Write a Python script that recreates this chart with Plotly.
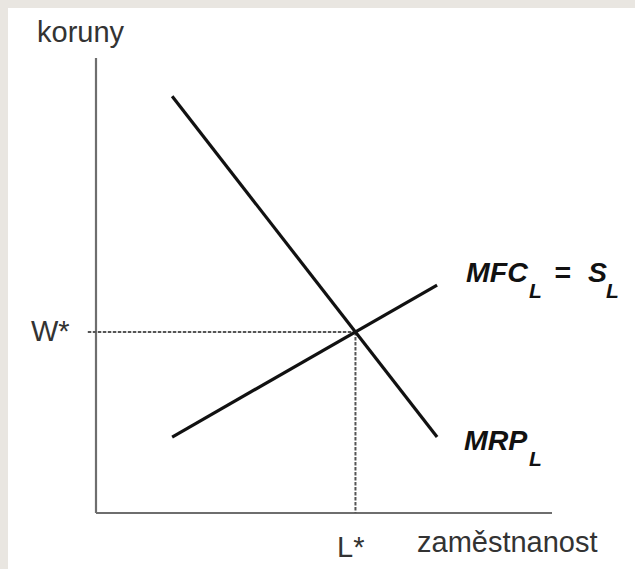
import plotly.graph_objects as go

# ---- data (economic units: axes run 0..10) ----
mrp_x = [1.67, 7.48]
mrp_y = [9.16, 1.67]
mfc_x = [1.67, 7.48]
mfc_y = [1.67, 5.01]
eq_L = [5.69]
eq_W = [3.98]
axis_max_x = [10.0]
axis_max_y = [10.0]
wage_guide_start = [-0.18]

y_axis_label = "koruny"
x_axis_label = "zaměstnanost"
w_label = "W*"
l_label = "L*"

W, H = 635, 569
X0_PX, Y0_PX = 96, 513      # pixel of data origin
UX, UY = 45.6, 45.5         # pixels per data unit


def px(v):
    return v / W


def py(v):
    return 1 - v / H


fig = go.Figure()

axis_col = "#6e6e6e"
# axes
fig.add_trace(go.Scatter(x=[0, 0], y=[axis_max_y[0], 0], mode="lines",
                         line=dict(color=axis_col, width=2.2), hoverinfo="skip"))
fig.add_trace(go.Scatter(x=[0, axis_max_x[0]], y=[0, 0], mode="lines",
                         line=dict(color=axis_col, width=2.2), hoverinfo="skip"))
# guides
dash_col = "#555555"
fig.add_trace(go.Scatter(x=[wage_guide_start[0], eq_L[0]], y=[eq_W[0], eq_W[0]], mode="lines",
                         line=dict(color=dash_col, width=2, dash="3.5px,1.5px"), hoverinfo="skip"))
fig.add_trace(go.Scatter(x=[eq_L[0], eq_L[0]], y=[eq_W[0], 0], mode="lines",
                         line=dict(color=dash_col, width=2, dash="3.5px,1.5px"), hoverinfo="skip"))
# curves
fig.add_trace(go.Scatter(x=mrp_x, y=mrp_y, mode="lines",
                         line=dict(color="#111111", width=3.2), hoverinfo="skip"))
fig.add_trace(go.Scatter(x=mfc_x, y=mfc_y, mode="lines",
                         line=dict(color="#111111", width=3.2), hoverinfo="skip"))

xr = [(0 - X0_PX) / UX, (W - X0_PX) / UX]
yr = [(Y0_PX - H) / UY, Y0_PX / UY]

lab_font = dict(family="Arial, Liberation Sans, sans-serif", size=29, color="#333333")
big = dict(family="Arial, Liberation Sans, sans-serif", size=28.5, color="#111111")
sub = dict(family="Arial, Liberation Sans, sans-serif", size=21, color="#111111")

ann = []


def add(text, x, y, font, xanchor="left"):
    ann.append(dict(text=text, x=px(x), y=py(y), xref="paper", yref="paper",
                    xanchor=xanchor, yanchor="middle", showarrow=False, font=font))


add(y_axis_label, 35, 32, lab_font)
add(w_label, 29, 331, lab_font)
add(l_label, 335, 547, lab_font)
add(x_axis_label, 415, 542, lab_font)

add("<b><i>MFC</i></b>", 464, 272, big)
add("<b><i>L</i></b>", 527, 290, sub)
add("<b><i>=</i></b>", 552, 272, big)
add("<b><i>S</i></b>", 586, 272, big)
add("<b><i>L</i></b>", 604, 290, sub)

add("<b><i>MRP</i></b>", 462, 440, big)
add("<b><i>L</i></b>", 527, 458, sub)

fig.update_layout(
    width=W, height=H,
    margin=dict(l=0, r=0, t=0, b=0),
    paper_bgcolor="#e9e6e1",
    plot_bgcolor="rgba(0,0,0,0)",
    showlegend=False,
    xaxis=dict(range=xr, visible=False, fixedrange=True),
    yaxis=dict(range=yr, visible=False, fixedrange=True),
    annotations=ann,
    shapes=[dict(type="rect", xref="paper", yref="paper", x0=px(8), x1=1.0,
                 y0=0, y1=py(8), fillcolor="white", line=dict(width=0), layer="below")],
)

fig.write_html("out.html", config={"displayModeBar": False},
               post_script="document.body.style.margin='0';document.body.style.overflow='hidden';")
